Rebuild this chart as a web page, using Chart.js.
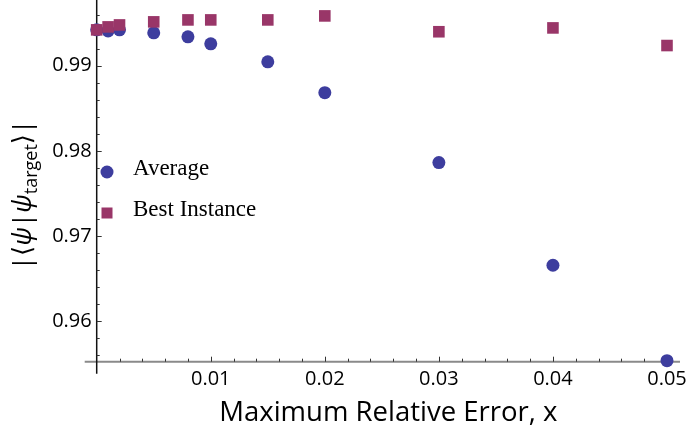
<!DOCTYPE html>
<html>
<head>
<meta charset="utf-8">
<script src="https://cdn.jsdelivr.net/npm/chart.js@4/dist/chart.umd.min.js"></script>
<style>
  html, body { margin: 0; padding: 0; background: #fff; }
  .wrap { width: 690px; height: 428px; position: relative; }
</style>
</head>
<body>
<div class="wrap"><canvas id="fidelityChart"></canvas></div>
<script>
const xValues = [0, 0.001, 0.002, 0.005, 0.008, 0.01, 0.015, 0.02, 0.03, 0.04, 0.05];
const averageValues = [0.99422, 0.9941, 0.99422, 0.99387, 0.9934, 0.99258, 0.99047, 0.98684, 0.97863, 0.96656, 0.95535];
const bestValues = [0.99422, 0.99457, 0.9948, 0.99516, 0.99539, 0.99539, 0.99539, 0.99586, 0.994, 0.99445, 0.99238];
const xTicks = [0.01, 0.02, 0.03, 0.04, 0.05];
const yTicks = [0.96, 0.97, 0.98, 0.99];
const xMinorTicks = [0.002, 0.004, 0.006, 0.008, 0.012, 0.014, 0.016, 0.018, 0.022, 0.024, 0.026, 0.028,
  0.032, 0.034, 0.036, 0.038, 0.042, 0.044, 0.046, 0.048];
const yMinorTicks = [0.956, 0.958, 0.962, 0.964, 0.966, 0.968, 0.972, 0.974, 0.976, 0.978,
  0.982, 0.984, 0.986, 0.988, 0.992, 0.994, 0.996];

const blue = "rgb(61,61,158)";
const purple = "rgb(153,54,104)";
const sansFont = "'Open Sans', 'DejaVu Sans', sans-serif";

const toPoints = (ys) => xValues.map((x, i) => ({ x: x, y: ys[i] }));

// mathematica style axes: ticks pointing inward, axes crossing past each other
const axesPlugin = {
  id: "mathAxes",
  beforeDatasetsDraw(chart) {
    const { ctx, chartArea } = chart;
    const xs = chart.scales.x;
    const ys = chart.scales.y;
    const x0 = xs.getPixelForValue(0);
    const yb = chartArea.bottom;
    ctx.save();
    ctx.strokeStyle = "#8a8a8a";
    ctx.lineWidth = 2;
    ctx.beginPath();
    ctx.moveTo(x0 - 12, yb);
    ctx.lineTo(chartArea.right, yb);
    ctx.stroke();
    ctx.strokeStyle = "#111";
    ctx.lineWidth = 1.5;
    ctx.beginPath();
    ctx.moveTo(x0, chartArea.top);
    ctx.lineTo(x0, yb + 12);
    ctx.stroke();
    ctx.lineWidth = 1;
    ctx.strokeStyle = "#333";
    ctx.beginPath();
    yTicks.forEach((v) => {
      const p = Math.round(ys.getPixelForValue(v)) + 0.5;
      ctx.moveTo(x0, p); ctx.lineTo(x0 + 5, p);
    });
    yMinorTicks.forEach((v) => {
      const p = Math.round(ys.getPixelForValue(v)) + 0.5;
      ctx.moveTo(x0, p); ctx.lineTo(x0 + 3, p);
    });
    xTicks.forEach((v) => {
      const p = Math.round(xs.getPixelForValue(v)) + 0.5;
      ctx.moveTo(p, yb); ctx.lineTo(p, yb - 5);
    });
    xMinorTicks.forEach((v) => {
      const p = Math.round(xs.getPixelForValue(v)) + 0.5;
      ctx.moveTo(p, yb); ctx.lineTo(p, yb - 3);
    });
    ctx.stroke();
    ctx.restore();
  },
  afterDraw(chart) {
    const { ctx } = chart;
    ctx.save();
    // legend inside the plot
    const items = [
      { label: chart.data.datasets[1].label, style: "circle", color: blue, y: 172 },
      { label: chart.data.datasets[0].label, style: "rect", color: purple, y: 213 },
    ];
    ctx.font = "23px 'Liberation Serif', 'Times New Roman', serif";
    ctx.textBaseline = "alphabetic";
    items.forEach((it) => {
      ctx.fillStyle = it.color;
      if (it.style === "circle") {
        ctx.beginPath();
        ctx.arc(107, it.y, 6.5, 0, Math.PI * 2);
        ctx.fill();
      } else {
        ctx.fillRect(101.5, it.y - 5.5, 11, 11);
      }
      ctx.fillStyle = "#000";
      ctx.fillText(it.label, 133, it.y + 3);
    });

    // y axis label |<psi|psi_target>|
    const parts = [
      { t: "|\u27E8", f: "26px " + sansFont, dy: 0 },
      { t: "\u03C8", f: "italic 26px " + sansFont, dy: 0 },
      { t: "|", f: "26px " + sansFont, dy: 0 },
      { t: "\u03C8", f: "italic 26px " + sansFont, dy: 0 },
      { t: "target", f: "18px " + sansFont, dy: 6 },
      { t: "\u27E9|", f: "26px " + sansFont, dy: 0 },
    ];
    let total = 0;
    parts.forEach((p) => { ctx.font = p.f; p.w = ctx.measureText(p.t).width; total += p.w; });
    ctx.translate(23, 195);
    ctx.rotate(-Math.PI / 2);
    ctx.fillStyle = "#000";
    let cx = -total / 2;
    parts.forEach((p) => {
      ctx.font = p.f;
      ctx.fillText(p.t, cx, 8 + p.dy);
      cx += p.w;
    });
    ctx.restore();
  },
};

new Chart(document.getElementById("fidelityChart"), {
  type: "scatter",
  data: {
    datasets: [
      {
        label: "Best Instance",
        data: toPoints(bestValues),
        pointStyle: "rect",
        pointRadius: 8.2,
        pointHoverRadius: 8.2,
        backgroundColor: purple,
        borderWidth: 0,
        clip: false,
        order: 0,
      },
      {
        label: "Average",
        data: toPoints(averageValues),
        pointStyle: "circle",
        pointRadius: 6.5,
        pointHoverRadius: 6.5,
        backgroundColor: blue,
        borderWidth: 0,
        clip: false,
        order: 1,
      },
    ],
  },
  options: {
    responsive: true,
    maintainAspectRatio: false,
    animation: false,
    layout: { autoPadding: false, padding: { top: 0, right: 10, bottom: 0, left: 0 } },
    plugins: {
      legend: { display: false },
      tooltip: { enabled: false },
    },
    scales: {
      x: {
        type: "linear",
        min: 0,
        max: 0.05114,
        afterBuildTicks: (s) => { s.ticks = xTicks.map((v) => ({ value: v })); },
        afterFit: (s) => { s.height = 66.3; s.paddingLeft = 0; s.paddingRight = 0; },
        grid: { display: false, drawTicks: false },
        border: { display: false },
        ticks: {
          padding: 6,
          color: "#000",
          maxRotation: 0,
          font: { family: sansFont, size: 20 },
          callback: (v) => v.toFixed(2),
        },
        title: {
          display: true,
          text: "Maximum Relative Error, x",
          color: "#000",
          font: { family: sansFont, size: 27.5 },
          padding: { top: 0, bottom: -2 },
        },
      },
      y: {
        type: "linear",
        min: 0.95523,
        max: 0.99773,
        afterBuildTicks: (s) => { s.ticks = yTicks.map((v) => ({ value: v })); },
        afterFit: (s) => { s.width = 96.7; s.paddingTop = 0; s.paddingBottom = 0; },
        grid: { display: false, drawTicks: false },
        border: { display: false },
        ticks: {
          padding: 5,
          color: "#000",
          font: { family: sansFont, size: 20 },
          callback: (v) => v.toFixed(2),
        },
      },
    },
  },
  plugins: [axesPlugin],
});
</script>
</body>
</html>
